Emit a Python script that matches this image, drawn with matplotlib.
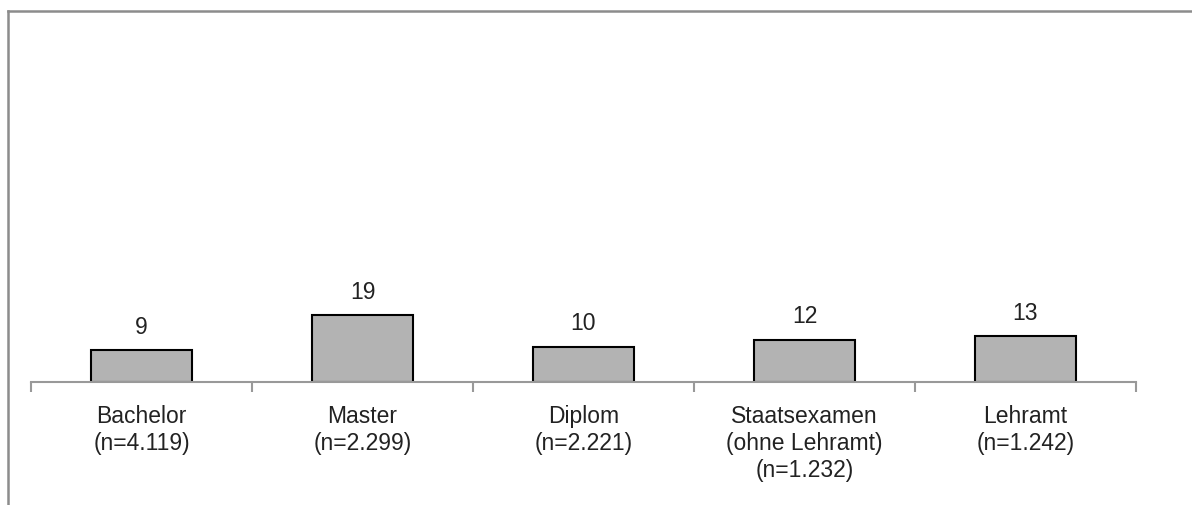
import matplotlib
matplotlib.use("Agg")
import matplotlib.pyplot as plt
from matplotlib.lines import Line2D

categories = ["Bachelor\n(n=4.119)", "Master\n(n=2.299)", "Diplom\n(n=2.221)",
              "Staatsexamen\n(ohne Lehramt)\n(n=1.232)", "Lehramt\n(n=1.242)"]
values = [9, 19, 10, 12, 13]

plt.rcParams["font.family"] = ["Liberation Sans", "DejaVu Sans"]

fig = plt.figure(figsize=(11.92, 5.06), dpi=100)
ax = fig.add_axes([31 / 1192, 1 - 382.7 / 506, 1105 / 1192, 350 / 506])

x = list(range(len(values)))
bars = ax.bar(x, values, width=0.455, color="#b3b3b3", edgecolor="black", linewidth=1.5, zorder=2)
for xi, v in zip(x, values):
    ax.annotate(str(v), (xi, v), xytext=(0, 9), textcoords="offset points",
                ha="center", va="bottom", fontsize=16.5, color="#222222")

ax.set_xlim(-0.5, len(values) - 0.5)
ax.set_ylim(0, 100)
ax.set_yticks([])
for s in ["top", "right", "left"]:
    ax.spines[s].set_visible(False)
ax.spines["bottom"].set_color("#999999")
ax.spines["bottom"].set_linewidth(1.5)
ax.spines["bottom"].set_zorder(3)

ax.set_xticks([i - 0.5 for i in range(len(values) + 1)])
ax.set_xticklabels([])
ax.tick_params(axis="x", length=7, width=1.5, color="#999999")
ax.set_xticks(x, minor=True)
ax.set_xticklabels(categories, minor=True, fontsize=16.5, color="#222222", linespacing=1.22)
ax.tick_params(axis="x", which="minor", length=0, pad=16)

# outer frame (top and left only visible)
fig.add_artist(Line2D([8 / 1192, 1.0], [1 - 11.5 / 506] * 2, color="#8c8c8c", lw=1.8, transform=fig.transFigure))
fig.add_artist(Line2D([8 / 1192] * 2, [0, 1 - 11.5 / 506], color="#8c8c8c", lw=1.8, transform=fig.transFigure))

fig.savefig("out.png", dpi=100)
